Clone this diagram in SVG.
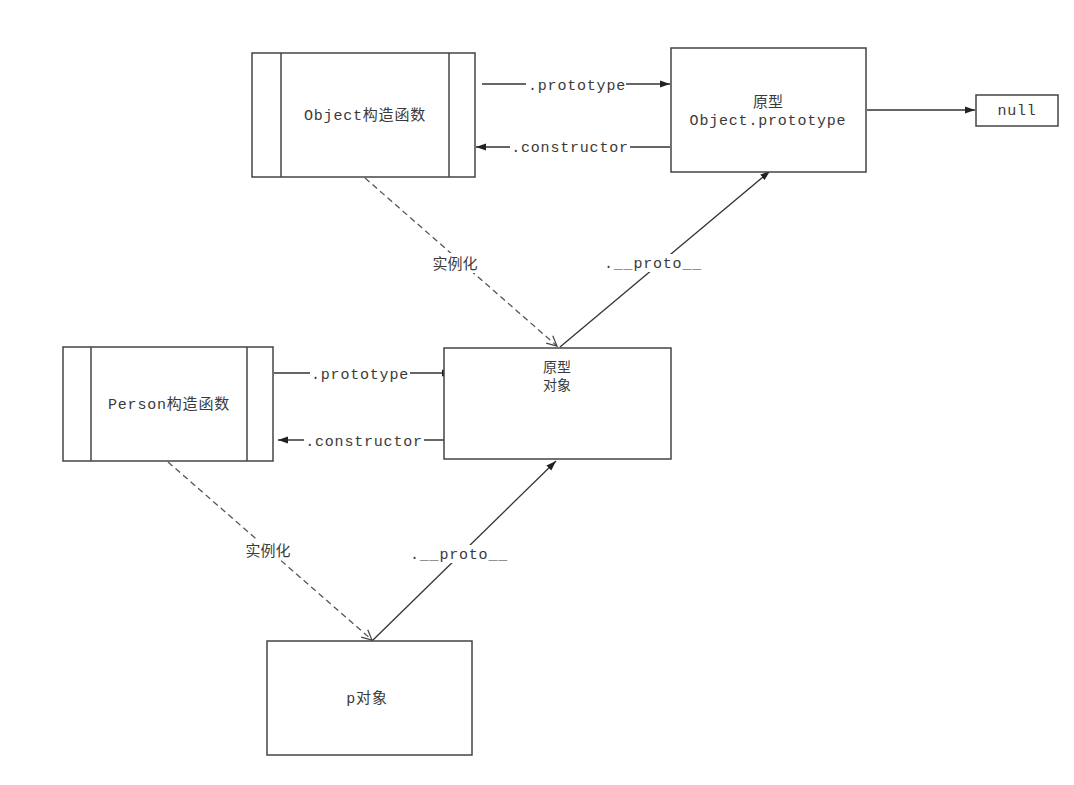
<svg xmlns="http://www.w3.org/2000/svg" width="1074" height="785" viewBox="0 0 1074 785">
<defs>
<marker id="fa" viewBox="0 0 10 10" refX="10" refY="5" markerWidth="10" markerHeight="10" markerUnits="userSpaceOnUse" orient="auto">
<path d="M0,1.5 L10,5 L0,8.5 Z" fill="#222"/>
</marker>
<marker id="oa" viewBox="0 0 12 12" refX="11" refY="6" markerWidth="12" markerHeight="12" markerUnits="userSpaceOnUse" orient="auto">
<path d="M1,1 L11,6 L1,11" fill="none" stroke="#444" stroke-width="1.2"/>
</marker>
</defs>
<style>
.box{fill:#fff;stroke:#444;stroke-width:1.5}
.in{stroke:#444;stroke-width:1.5}
.ln{stroke:#333;stroke-width:1.3;fill:none}
.ds{stroke:#555;stroke-width:1.3;fill:none;stroke-dasharray:6,4}
.t{font-family:"Liberation Mono","Noto Sans CJK SC",monospace;font-size:15px;fill:#3a3a3a;text-anchor:middle;letter-spacing:0.8px}
.c{font-family:"Noto Sans CJK SC",sans-serif;font-size:15px;fill:#3a3a3a;text-anchor:middle}
.c2{font-family:"Noto Sans CJK SC",sans-serif;font-size:14px;fill:#3a3a3a;text-anchor:middle}
.bg{fill:#fff}
</style>
<rect width="1074" height="785" fill="#fff"/>
<g id="connectors">
<line class="ln" x1="482" y1="84" x2="670" y2="84" marker-end="url(#fa)"/>
<line class="ln" x1="670" y1="147" x2="476" y2="147" marker-end="url(#fa)"/>
<line class="ln" x1="867" y1="110" x2="975" y2="110" marker-end="url(#fa)"/>
<line class="ln" x1="274" y1="373" x2="452" y2="373" marker-end="url(#fa)"/>
<line class="ln" x1="452" y1="440" x2="278" y2="440" marker-end="url(#fa)"/>
<line class="ds" x1="365" y1="178" x2="557" y2="346" marker-end="url(#oa)"/>
<line class="ln" x1="560" y1="347" x2="770" y2="171" marker-end="url(#fa)"/>
<line class="ds" x1="168" y1="462" x2="372" y2="640" marker-end="url(#oa)"/>
<line class="ln" x1="372" y1="641" x2="556" y2="461" marker-end="url(#fa)"/>
<rect class="bg" x="526" y="76" width="100" height="18"/>
<text class="t" x="577" y="90">.prototype</text>
<rect class="bg" x="510" y="139" width="120" height="18"/>
<text class="t" x="570" y="152">.constructor</text>
<rect class="bg" x="310" y="365" width="100" height="18"/>
<text class="t" x="360" y="379">.prototype</text>
<rect class="bg" x="304" y="432" width="120" height="18"/>
<text class="t" x="364" y="446">.constructor</text>
<rect class="bg" x="428" y="253" width="56" height="20"/>
<text class="c" x="455" y="269">实例化</text>
<rect class="bg" x="607" y="254" width="92" height="18"/>
<text class="t" x="653" y="268">.__proto__</text>
<rect class="bg" x="240" y="540" width="56" height="20"/>
<text class="c" x="268" y="556">实例化</text>
<rect class="bg" x="413" y="545" width="92" height="18"/>
<text class="t" x="459" y="559">.__proto__</text>
</g>
<g id="object-ctor">
<rect class="box" x="252" y="53" width="223" height="124"/>
<line class="in" x1="281" y1="53" x2="281" y2="177"/>
<line class="in" x1="449" y1="53" x2="449" y2="177"/>
<text class="t" x="365" y="120">Object构造函数</text>
</g>
<g id="object-prototype">
<rect class="box" x="671" y="48" width="195" height="124"/>
<text class="c" x="768" y="107">原型</text>
<text class="t" x="768" y="125">Object.prototype</text>
</g>
<g id="null">
<rect class="box" x="976" y="95" width="82" height="31"/>
<text class="t" x="1017" y="115">null</text>
</g>
<g id="person-ctor">
<rect class="box" x="63" y="347" width="210" height="114"/>
<line class="in" x1="91" y1="347" x2="91" y2="461"/>
<line class="in" x1="247" y1="347" x2="247" y2="461"/>
<text class="t" x="169" y="409">Person构造函数</text>
</g>
<g id="proto-object">
<rect class="box" x="444" y="348" width="227" height="111"/>
<text class="c2" x="557" y="372">原型</text>
<text class="c2" x="557" y="390">对象</text>
</g>
<g id="p-object">
<rect class="box" x="267" y="641" width="205" height="114"/>
<text class="t" x="367" y="703">p对象</text>
</g>
</svg>
